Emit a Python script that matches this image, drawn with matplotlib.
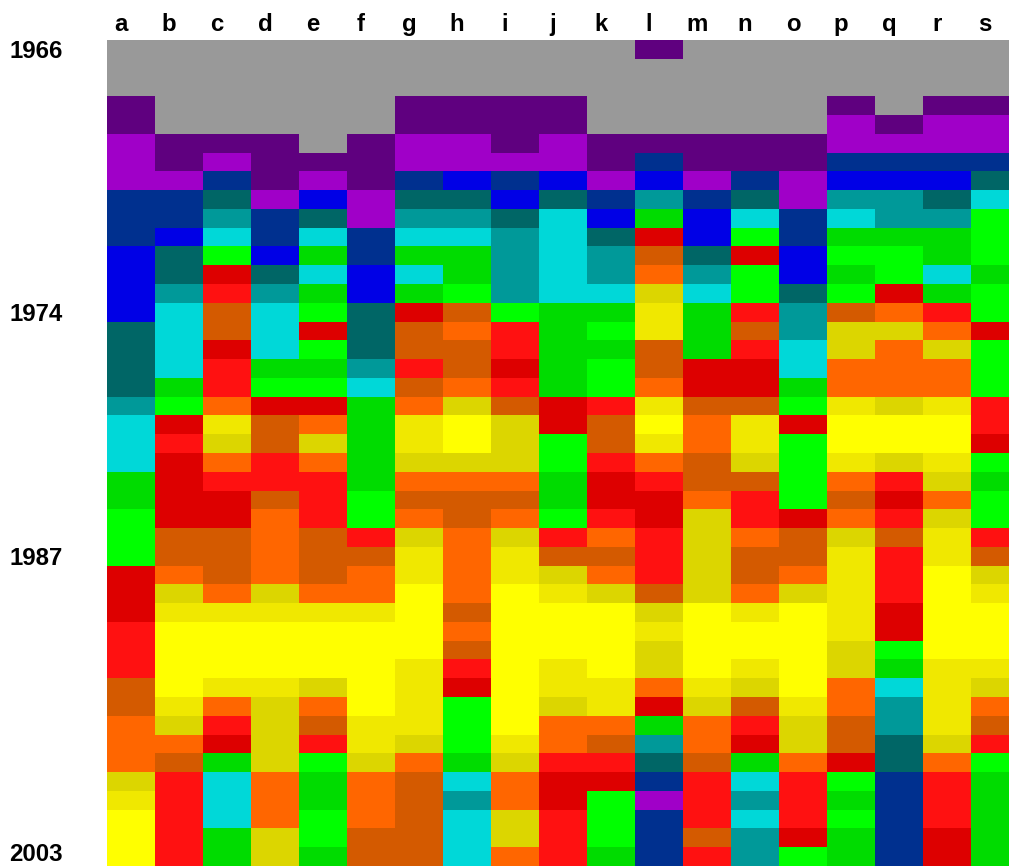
import numpy as np
import matplotlib.pyplot as plt
from matplotlib.colors import ListedColormap, BoundaryNorm

plt.rcParams["font.family"] = ["Liberation Sans", "DejaVu Sans"]

# column letters across the top, year labels down the side
columns = list("abcdefghijklmnopqrs")
year_rows = [0, 14, 27, 42.75]
year_labels = ["1966", "1974", "1987", "2003"]

# category colours, code 0..16
palette = [
    "#999999",  # 0 gray
    "#5f007f",  # 1 dark purple
    "#a000c8",  # 2 violet
    "#00308f",  # 3 navy
    "#0000e6",  # 4 blue
    "#006666",  # 5 dark teal
    "#009999",  # 6 teal
    "#00d8d8",  # 7 cyan
    "#00dc00",  # 8 green
    "#00ff00",  # 9 lime
    "#dd0000",  # 10 dark red
    "#ff1111",  # 11 red
    "#d45a00",  # 12 rust
    "#ff6600",  # 13 orange
    "#dcd600",  # 14 olive yellow
    "#f0e800",  # 15 yellow
    "#ffff00",  # 16 bright yellow
]

# one list per column, top row first (44 rows)
col_a = [0,0,0,1,1,2,2,2,3,3,3,4,4,4,4,5,5,5,5,6,7,7,7,8,8,9,9,9,10,10,10,11,11,11,12,12,13,13,13,14,15,16,16,16]
col_b = [0,0,0,0,0,1,1,2,3,3,4,5,5,6,7,7,7,7,8,9,10,11,10,10,10,10,12,12,13,14,15,16,16,16,16,15,14,13,12,11,11,11,11,11]
col_c = [0,0,0,0,0,1,2,3,5,6,7,9,10,11,12,12,10,11,11,13,15,14,13,11,10,10,12,12,12,13,15,16,16,16,15,13,11,10,8,7,7,7,8,8]
col_d = [0,0,0,0,0,1,1,1,2,3,3,4,5,6,7,7,7,8,9,10,12,12,11,11,12,13,13,13,13,14,15,16,16,16,15,14,14,14,14,13,13,13,14,14]
col_e = [0,0,0,0,0,0,1,2,4,5,7,8,7,8,9,10,9,8,9,10,13,14,13,11,11,11,12,12,12,13,15,16,16,16,14,13,12,11,9,8,8,9,9,8]
col_f = [0,0,0,0,0,1,1,1,2,2,3,3,4,4,5,5,5,6,7,8,8,8,8,8,9,9,11,12,13,13,15,16,16,16,16,16,15,15,14,13,13,13,12,12]
col_g = [0,0,0,1,1,2,2,3,5,6,7,8,7,8,10,12,12,11,12,13,15,15,14,13,12,13,14,15,15,16,16,16,16,15,15,15,15,14,13,12,12,12,12,12]
col_h = [0,0,0,1,1,2,2,4,5,6,7,8,8,9,12,13,12,12,13,14,16,16,14,13,12,12,13,13,13,13,12,13,12,11,10,9,9,9,8,7,6,7,7,7]
col_i = [0,0,0,1,1,1,2,3,4,5,6,6,6,6,9,11,11,10,11,12,14,14,14,13,12,13,14,15,15,16,16,16,16,16,16,16,16,15,14,13,13,14,14,13]
col_j = [0,0,0,1,1,2,2,4,5,7,7,7,7,7,8,8,8,8,8,10,10,9,9,8,8,9,11,12,14,15,16,16,16,15,15,14,13,13,11,10,10,11,11,11]
col_k = [0,0,0,0,0,1,1,2,3,4,5,6,6,7,8,9,8,9,9,11,12,12,11,10,10,11,13,12,13,14,16,16,16,16,15,15,13,12,11,10,9,9,9,8]
col_l = [1,0,0,0,0,1,3,4,6,8,10,12,13,14,15,15,12,12,13,15,16,15,13,11,10,10,11,11,11,12,14,15,14,14,13,10,8,6,5,3,2,3,3,3]
col_m = [0,0,0,0,0,1,1,2,3,4,4,5,6,7,8,8,8,10,10,12,13,13,12,12,13,14,14,14,14,14,16,16,16,16,15,14,13,13,12,11,11,11,12,11]
col_n = [0,0,0,0,0,1,1,3,5,7,9,10,9,9,11,12,11,10,10,12,15,15,14,12,11,11,13,12,12,13,15,16,16,15,14,12,11,10,8,7,6,7,6,6]
col_o = [0,0,0,0,0,1,1,2,2,3,3,4,4,5,6,6,7,7,8,9,10,9,9,9,9,10,12,12,13,14,16,16,16,16,16,15,14,14,13,11,11,11,10,9]
col_p = [0,0,0,1,2,2,3,4,6,7,8,9,8,9,12,14,14,13,13,15,16,16,15,13,12,13,14,15,15,15,15,15,14,14,13,13,12,12,10,9,8,9,8,8]
col_q = [0,0,0,0,1,2,3,4,6,6,8,9,9,10,13,14,13,13,13,14,16,16,14,11,10,11,12,11,11,11,10,10,9,8,7,6,6,5,5,3,3,3,3,3]
col_r = [0,0,0,1,2,2,3,4,5,6,8,8,7,8,11,13,14,13,13,15,16,16,15,14,13,14,15,15,16,16,16,16,16,15,15,15,15,14,13,11,11,11,10,10]
col_s = [0,0,0,1,2,2,3,5,7,9,9,9,8,9,9,10,9,9,9,11,11,10,9,8,9,9,11,12,14,15,16,16,16,15,14,13,12,11,9,8,8,8,8,8]

grid = np.column_stack([col_a, col_b, col_c, col_d, col_e, col_f, col_g, col_h, col_i,
                        col_j, col_k, col_l, col_m, col_n, col_o, col_p, col_q, col_r, col_s])

cmap = ListedColormap(palette)
norm = BoundaryNorm(np.arange(len(palette) + 1) - 0.5, cmap.N)

W, H = 1009, 867
fig = plt.figure(figsize=(W / 100, H / 100), dpi=100)
# heatmap runs past the right edge, the last column is cut like in the reference
ax = fig.add_axes([106.7 / W, 1.3 / H, 19 * 48.0 / W, 825.7 / H])
ax.imshow(grid, cmap=cmap, norm=norm, aspect="auto", interpolation="nearest")

ax.set_xticks(np.arange(len(columns)) - 0.2)
ax.set_xticklabels(columns)
ax.xaxis.tick_top()
ax.tick_params(axis="x", length=0, pad=2.6, labelsize=17.3)
for t in ax.get_xticklabels():
    t.set_fontweight("bold")

ax.set_yticks(year_rows)
ax.set_yticklabels(year_labels)
ax.tick_params(axis="y", length=0, pad=31.5, labelsize=17.3)
for t in ax.get_yticklabels():
    t.set_fontweight("bold")

for sp in ax.spines.values():
    sp.set_visible(False)

fig.savefig("out.png", dpi=100)
